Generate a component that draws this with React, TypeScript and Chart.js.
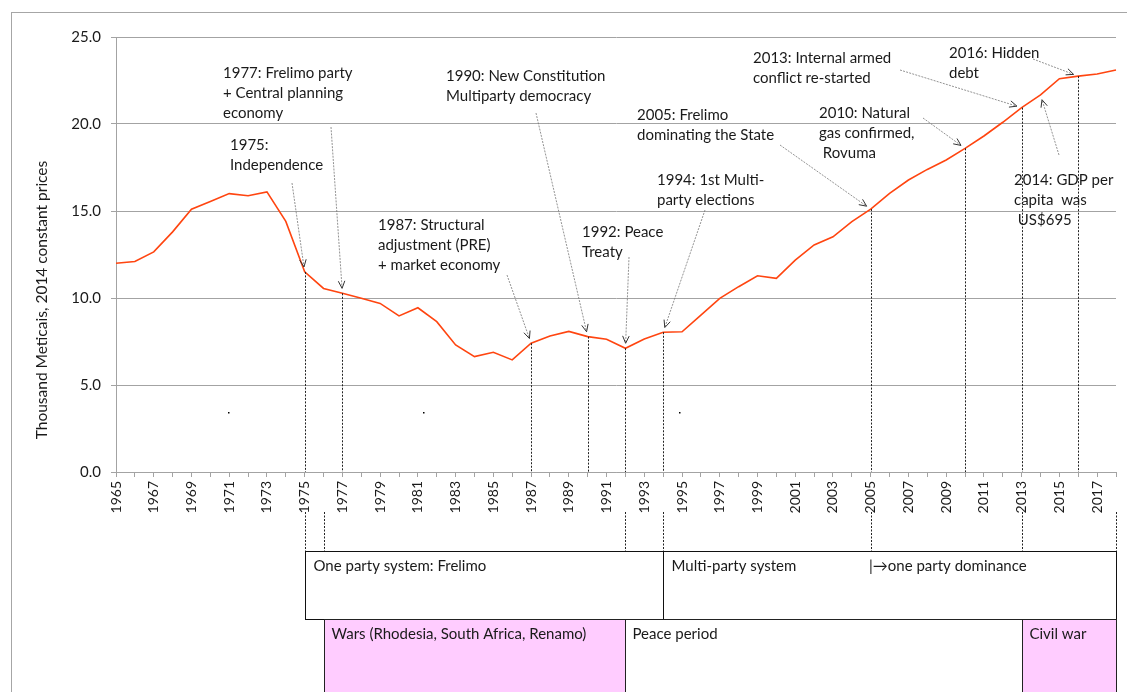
import React, { useEffect, useRef } from 'react';
import { Chart, registerables } from 'chart.js';

Chart.register(...registerables);

// ---------- DATA ----------
const years: string[] = [
  '1965','1966','1967','1968','1969','1970','1971','1972','1973','1974',
  '1975','1976','1977','1978','1979','1980','1981','1982','1983','1984',
  '1985','1986','1987','1988','1989','1990','1991','1992','1993','1994',
  '1995','1996','1997','1998','1999','2000','2001','2002','2003','2004',
  '2005','2006','2007','2008','2009','2010','2011','2012','2013','2014',
  '2015','2016','2017','2018',
];

// GDP per capita, thousand Meticais (2014 constant prices)
const gdpPerCapita: number[] = [
  12.0, 12.1, 12.65, 13.8, 15.1, 15.55, 16.0, 15.88, 16.1, 14.4,
  11.5, 10.55, 10.27, 9.98, 9.69, 8.97, 9.44, 8.64, 7.3, 6.63,
  6.88, 6.44, 7.4, 7.82, 8.08, 7.78, 7.63, 7.11, 7.64, 8.03,
  8.06, 9.02, 9.98, 10.65, 11.28, 11.13, 12.18, 13.05, 13.52, 14.39,
  15.11, 16.01, 16.78, 17.39, 17.93, 18.6, 19.31, 20.1, 20.94, 21.67,
  22.6, 22.75, 22.87, 23.1,
];

const yMin = 0;
const yMax = 25;
const yStep = 5;
const yAxisTitle = 'Thousand Meticais, 2014 constant prices';

// events: year and annotation text lines
const eventYears: string[] = ['1975', '1977', '1987', '1990', '1992', '1994', '2005', '2010', '2013', '2016', '2014'];
const eventTexts: string[][] = [
  ['1975:', 'Independence'],
  ['1977: Frelimo party', '+ Central planning', 'economy'],
  ['1987: Structural', 'adjustment (PRE)', '+ market economy'],
  ['1990: New Constitution', 'Multiparty democracy'],
  ['1992: Peace', 'Treaty'],
  ['1994: 1st Multi-', 'party elections'],
  ['2005: Frelimo', 'dominating the State'],
  ['2010: Natural', 'gas confirmed,', ' Rovuma'],
  ['2013: Internal armed', 'conflict re-started'],
  ['2016: Hidden', 'debt'],
  ['2014: GDP per', 'capita  was', ' US$695'],
];
// years that get a dotted drop line from the curve to the axis
const dropLineYears: string[] = ['1975', '1977', '1987', '1990', '1992', '1994', '2005', '2010', '2013', '2016'];
// years with a dotted connector below the axis down to the period boxes
const connectorYears: string[] = ['1975', '1976', '1992', '1994', '2005', '2013', '2018'];

// political periods (upper row of boxes)
const politicalStart: string[] = ['1975', '1994'];
const politicalEnd: string[] = ['1994', '2018'];
const politicalLabels: string[] = ['One party system: Frelimo', 'Multi-party system'];
const politicalNote = '|\u2192one party dominance';
const politicalNoteYear = '2005';

// conflict periods (lower row of boxes)
const conflictStart: string[] = ['1976', '1992', '2013'];
const conflictEnd: string[] = ['1992', '2013', '2018'];
const conflictLabels: string[] = ['Wars (Rhodesia, South Africa, Renamo)', 'Peace period', 'Civil war'];
const conflictIsWar: boolean[] = [true, false, true];

// ---------- LAYOUT / STYLE ----------
const W = 1127;
const H = 692;
const FONT_FAMILY = 'Lato, "Liberation Sans", sans-serif';
const TEXT_FONT = `15px ${FONT_FAMILY}`;
const LINE_COLOR = '#ff4510';
const GRID_COLOR = '#a3a3a3';
const TEXT_COLOR = '#1a1a1a';
const PINK = '#ffccff';
const LINE_H = 20.3;

// annotation text anchor (left, first-line centre) and arrow tail, in page pixels
const annotationLayout: { x: number; y: number; ax: number; ay: number }[] = [
  { x: 230, y: 145, ax: 292, ay: 183 },
  { x: 223, y: 73, ax: 331, ay: 127 },
  { x: 378, y: 225, ax: 507, ay: 275 },
  { x: 446, y: 76, ax: 536, ay: 113 },
  { x: 582, y: 232, ax: 629, ay: 257 },
  { x: 657, y: 180, ax: 705, ay: 210 },
  { x: 637, y: 115, ax: 780, ay: 145 },
  { x: 819, y: 113, ax: 923, ay: 118 },
  { x: 753, y: 58, ax: 900, ay: 70 },
  { x: 949, y: 53, ax: 1033, ay: 59 },
  { x: 1014, y: 180, ax: 1059, ay: 155 },
];
const ARROW_GAP = 5;
const CONNECTOR_TOP = 512;
const BOX1_TOP = 551;
const BOX2_TOP = 619;
const STRAY_DOTS: [number, number][] = [[228, 412], [423, 412], [679, 412]];

function drawArrow(ctx: CanvasRenderingContext2D, x0: number, y0: number, x1: number, y1: number) {
  const ang = Math.atan2(y1 - y0, x1 - x0);
  const len = Math.hypot(x1 - x0, y1 - y0);
  const ex = x0 + Math.cos(ang) * (len - ARROW_GAP);
  const ey = y0 + Math.sin(ang) * (len - ARROW_GAP);
  ctx.save();
  ctx.strokeStyle = '#777';
  ctx.lineWidth = 0.8;
  ctx.setLineDash([2, 1.2]);
  ctx.beginPath();
  ctx.moveTo(x0, y0);
  ctx.lineTo(ex, ey);
  ctx.stroke();
  ctx.setLineDash([]);
  ctx.strokeStyle = '#333';
  ctx.lineWidth = 1;
  const hl = 8;
  const spread = 0.42;
  ctx.beginPath();
  ctx.moveTo(ex - Math.cos(ang - spread) * hl, ey - Math.sin(ang - spread) * hl);
  ctx.lineTo(ex, ey);
  ctx.lineTo(ex - Math.cos(ang + spread) * hl, ey - Math.sin(ang + spread) * hl);
  ctx.stroke();
  ctx.restore();
}

const overlayPlugin = {
  id: 'overlay',
  afterDraw(chart: any) {
    const ctx: CanvasRenderingContext2D = chart.ctx;
    const xs = chart.scales.x;
    const ys = chart.scales.y;
    const area = chart.chartArea;
    const px = (yr: string) => xs.getPixelForValue(years.indexOf(yr));
    const py = (yr: string) => ys.getPixelForValue(gdpPerCapita[years.indexOf(yr)]);

    ctx.save();
    // outer frame
    ctx.strokeStyle = '#a6a6a6';
    ctx.lineWidth = 1;
    ctx.strokeRect(11.5, 12.5, W + 20, H + 20);

    // y-axis title
    ctx.save();
    ctx.translate(42, 300);
    ctx.rotate(-Math.PI / 2);
    ctx.font = `15.5px ${FONT_FAMILY}`;
    ctx.fillStyle = TEXT_COLOR;
    ctx.textAlign = 'center';
    ctx.textBaseline = 'middle';
    ctx.fillText(yAxisTitle, 0, 0);
    ctx.restore();

    // dotted drop lines
    ctx.strokeStyle = '#222';
    ctx.lineWidth = 1;
    ctx.setLineDash([2, 1.5]);
    for (const yr of dropLineYears) {
      const x = Math.round(px(yr)) + 0.5;
      ctx.beginPath();
      ctx.moveTo(x, py(yr));
      ctx.lineTo(x, area.bottom);
      ctx.stroke();
    }
    for (const yr of connectorYears) {
      const x = Math.round(px(yr)) + 0.5;
      ctx.beginPath();
      ctx.moveTo(x, CONNECTOR_TOP);
      ctx.lineTo(x, BOX1_TOP);
      ctx.stroke();
    }
    ctx.setLineDash([]);

    // stray dots
    ctx.fillStyle = '#000';
    for (const [dx, dy] of STRAY_DOTS) ctx.fillRect(dx, dy, 1.5, 1.5);

    // annotations
    ctx.font = TEXT_FONT;
    ctx.textAlign = 'left';
    ctx.textBaseline = 'middle';
    eventYears.forEach((yr, i) => {
      const l = annotationLayout[i];
      ctx.fillStyle = TEXT_COLOR;
      eventTexts[i].forEach((t, j) => ctx.fillText(t, l.x, l.y + j * LINE_H));
      drawArrow(ctx, l.ax, l.ay, px(yr), py(yr));
    });

    // political period boxes
    ctx.lineWidth = 1;
    politicalLabels.forEach((lab, i) => {
      const x0 = Math.round(px(politicalStart[i])) + 0.5;
      const x1 = Math.round(px(politicalEnd[i])) + 0.5;
      ctx.fillStyle = '#fff';
      ctx.fillRect(x0, BOX1_TOP + 0.5, x1 - x0, BOX2_TOP - BOX1_TOP);
      ctx.strokeStyle = '#111';
      ctx.strokeRect(x0, BOX1_TOP + 0.5, x1 - x0, BOX2_TOP - BOX1_TOP);
      ctx.fillStyle = TEXT_COLOR;
      ctx.fillText(lab, x0 + 8, BOX1_TOP + 15);
    });
    ctx.fillText(politicalNote, Math.round(px(politicalNoteYear)) - 2, BOX1_TOP + 15);

    // conflict period boxes
    conflictLabels.forEach((lab, i) => {
      const x0 = Math.round(px(conflictStart[i])) + 0.5;
      const x1 = Math.round(px(conflictEnd[i])) + 0.5;
      ctx.fillStyle = conflictIsWar[i] ? PINK : '#fff';
      ctx.fillRect(x0, BOX2_TOP + 0.5, x1 - x0, H);
      ctx.strokeStyle = '#222';
      ctx.strokeRect(x0, BOX2_TOP + 0.5, x1 - x0, H);
      ctx.fillStyle = TEXT_COLOR;
      ctx.fillText(lab, x0 + 7, BOX2_TOP + 15);
    });
    ctx.restore();
  },
};

export default function App() {
  const canvasRef = useRef<HTMLCanvasElement | null>(null);

  useEffect(() => {
    const canvas = canvasRef.current;
    if (!canvas) return;
    Chart.defaults.font.family = FONT_FAMILY;
    const chart = new Chart(canvas, {
      type: 'line',
      data: {
        labels: years,
        datasets: [
          {
            label: 'GDP per capita',
            data: gdpPerCapita,
            borderColor: LINE_COLOR,
            backgroundColor: LINE_COLOR,
            borderWidth: 1.6,
            pointRadius: 0,
            tension: 0,
            fill: false,
          },
        ],
      },
      options: {
        responsive: false,
        animation: false,
        devicePixelRatio: 1,
        layout: { padding: { left: 0, top: 37, right: 11, bottom: 0 } },
        plugins: {
          legend: { display: false },
          tooltip: { enabled: false },
          title: { display: false },
        },
        scales: {
          x: {
            type: 'category',
            offset: false,
            grid: {
              drawOnChartArea: false,
              drawTicks: true,
              tickLength: 5,
              color: GRID_COLOR,
            },
            border: { color: GRID_COLOR },
            ticks: {
              autoSkip: false,
              maxRotation: 90,
              minRotation: 90,
              padding: 4,
              color: TEXT_COLOR,
              font: { size: 14, family: FONT_FAMILY },
              callback: (_v: any, idx: number) => (idx % 2 === 0 ? years[idx] : ''),
            },
            afterFit: (scale: any) => {
              scale.height = H - 472;
              scale.paddingLeft = 0;
              scale.paddingRight = 0;
            },
          },
          y: {
            min: yMin,
            max: yMax,
            grid: { color: GRID_COLOR, tickLength: 5 },
            border: { color: GRID_COLOR },
            ticks: {
              stepSize: yStep,
              padding: 10,
              color: TEXT_COLOR,
              font: { size: 15, family: FONT_FAMILY },
              callback: (v: any) => Number(v).toFixed(1),
            },
            afterFit: (scale: any) => {
              scale.width = 116;
              scale.paddingTop = 0;
              scale.paddingBottom = 0;
            },
          },
        },
      },
      plugins: [overlayPlugin],
    });
    return () => chart.destroy();
  }, []);

  return (
    <div style={{ position: 'absolute', left: 0, top: 0, width: W, height: H, background: '#fff' }}>
      <canvas ref={canvasRef} width={W} height={H} style={{ display: 'block' }} />
    </div>
  );
}
